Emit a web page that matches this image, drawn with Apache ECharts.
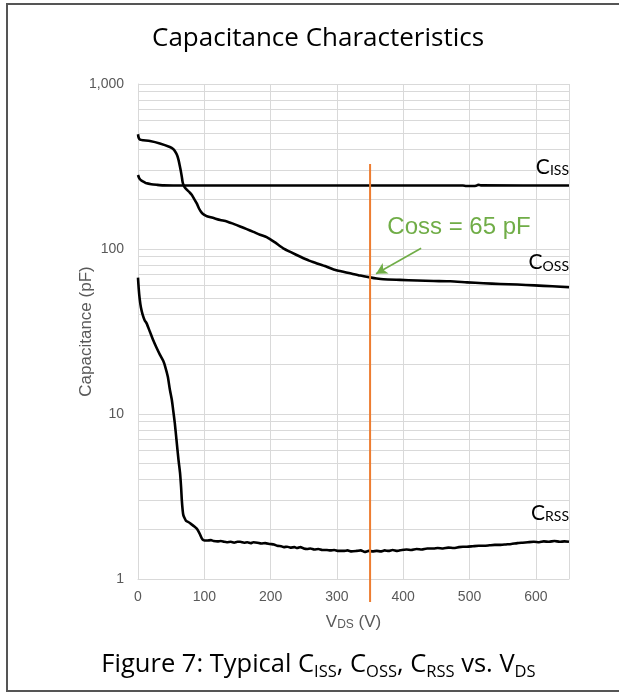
<!DOCTYPE html>
<html>
<head>
<meta charset="utf-8">
<script src="https://cdn.jsdelivr.net/npm/echarts@6/dist/echarts.min.js"></script>
<style>
  html, body { margin: 0; padding: 0; background: #fff; }
  #chart { width: 619px; height: 695px; }
</style>
</head>
<body>
<div id="chart"></div>
<script>
// V_DS (V) vs capacitance (pF)
var ciss = [[0,281],[2,268],[5,260],[9,255],[13,250],[20,247],[28,245],[38,243],[60,242.5],[150,242.5],[300,242.5],[490,242.5],[495,241],[505,241],[510,242],[513,245],[517,243],[650,242.5]]
var coss = [[0,496],[1,472],[3,460],[8,456],[18,451],[33,436],[48,415],[53,404],[56,390],[59,370],[61,348],[63,320],[64.5,298],[66,275],[67.5,252],[70,238],[73.5,229],[78,220],[81,213],[85,200],[88.6,189],[92,176],[96,166],[100,161],[104,158],[114,154],[124,150],[134,147],[144,142],[154,137],[164,132],[174,127],[184,122],[194,118],[206,110],[219,101],[232,95],[245,89.7],[258,85],[270,81.8],[283,78.5],[295,75.2],[308,73],[320,71.2],[335,69],[350,67.3],[360,66.3],[370,65.6],[395,65],[421,64.4],[446,64],[471,63.7],[496,62.8],[521,62],[546,61.4],[572,60.9],[598,60.2],[625,59.4],[650,58.6]]
var crss = [[0,67],[1,58],[2.5,50],[4.5,44],[7,40],[10,37],[13,35.4],[18,31.5],[23,28],[28,25.2],[33,22.9],[38,21],[41,19.4],[45,16.8],[48,14.1],[51,12.2],[53,10.6],[55.5,8.8],[58,7.0],[61,5.3],[63.4,4.4],[65,3.6],[66,3.04],[67.4,2.6],[68.4,2.44],[70,2.35],[72.5,2.25],[77,2.2],[81,2.14],[85,2.08],[88.6,2.02],[91,1.95],[93.6,1.86],[96,1.77],[98.6,1.72],[104,1.71],[110,1.72],[114,1.70],[120,1.69],[125,1.70],[130,1.68],[134,1.67],[140,1.68],[145,1.66],[150,1.68],[154,1.68],[160,1.66],[165,1.67],[170,1.65],[174,1.67],[180,1.66],[186,1.64],[192,1.65],[199,1.63],[205,1.62],[210,1.59],[216,1.58],[220,1.56],[225,1.57],[230,1.55],[236,1.56],[240,1.54],[245,1.56],[250,1.53],[255,1.52],[260,1.53],[266,1.51],[272,1.52],[278,1.50],[285,1.50],[290,1.49],[296,1.50],[302,1.48],[310,1.48],[316,1.49],[322,1.47],[330,1.48],[336,1.49],[342,1.46],[348,1.48],[354,1.47],[360,1.48],[366,1.47],[372,1.49],[378,1.48],[384,1.50],[391,1.48],[398,1.50],[405,1.51],[412,1.50],[420,1.52],[428,1.51],[436,1.53],[446,1.53],[452,1.54],[460,1.53],[468,1.55],[476,1.54],[484,1.56],[490,1.57],[496,1.57],[505,1.58],[514,1.59],[522,1.59],[530,1.60],[538,1.61],[547,1.61],[555,1.62],[563,1.63],[572,1.65],[580,1.66],[588,1.67],[597,1.68],[605,1.67],[612,1.69],[620,1.68],[628,1.70],[636,1.68],[643,1.69],[650,1.68]]

// marker at 350 V and the Coss callout
var markerV = 350
var markerSpan = [327, 0.726]
var arrowFrom = [427, 101]
var arrowTo = [359, 70.8]
var calloutAt = [376, 136]
var calloutText = 'Coss = 65 pF'

// log minor grid lines
var minorLines = [2,3,4,5,6,7,8,9,20,30,40,50,60,70,80,90,200,300,400,500,600,700,800,900]

var labelFont = 'Lato, "Open Sans", sans-serif'
var headFont = '"Open Sans", Lato, sans-serif'
var axisFont = '"Liberation Sans", Arial, sans-serif'
var gridCol = '#d9d9d9'
var green = '#70ad47'

var myChart = echarts.init(document.getElementById('chart'))

function curve(name, data) {
  return {
    name: name,
    type: 'line',
    data: data,
    symbol: 'none',
    smooth: 0.2,
    silent: true,
    lineStyle: { color: '#000', width: 2.6, join: 'round' },
    z: 5
  }
}

var option = {
  animation: false,
  title: {
    text: 'Capacitance Characteristics',
    left: 152,
    top: 26,
    padding: 0,
    textStyle: { fontFamily: headFont, fontSize: 26, fontWeight: 'normal', color: '#000' }
  },
  grid: { left: 138, right: 50, top: 84, bottom: 116 },
  xAxis: {
    type: 'value',
    min: 0,
    max: 650,
    interval: 100,
    name: 'V{s|DS} (V)',
    nameLocation: 'middle',
    nameGap: 35,
    nameMoveOverlap: false,
    nameTextStyle: {
      fontFamily: axisFont, fontSize: 17, color: '#595959',
      rich: { s: { fontFamily: axisFont, fontSize: 12, color: '#595959', verticalAlign: 'bottom', lineHeight: 12 } }
    },
    axisLine: { lineStyle: { color: gridCol } },
    axisTick: { show: false },
    axisLabel: { showMaxLabel: false, margin: 11, fontFamily: axisFont, fontSize: 14, color: '#595959' },
    splitLine: { show: true, lineStyle: { color: gridCol, width: 1 } }
  },
  yAxis: {
    type: 'log',
    logBase: 10,
    min: 1,
    max: 1000,
    name: 'Capacitance (pF)',
    nameLocation: 'middle',
    nameGap: 43,
    nameMoveOverlap: false,
    nameTextStyle: { fontFamily: axisFont, fontSize: 17, color: '#595959' },
    axisLine: { show: true, lineStyle: { color: gridCol } },
    axisTick: { show: false },
    axisLabel: {
      margin: 14,
      fontFamily: axisFont, fontSize: 14, color: '#595959',
      formatter: function (v) { return v >= 1000 ? '1,000' : String(v) }
    },
    splitLine: { show: true, lineStyle: { color: gridCol, width: 1 } }
  },
  series: [
    {
      name: 'grid-minor',
      type: 'line',
      data: [],
      silent: true,
      markLine: {
        silent: true,
        symbol: 'none',
        label: { show: false },
        lineStyle: { color: gridCol, type: 'solid', width: 1 },
        data: minorLines.map(function (v) { return { yAxis: v } })
      },
      z: 1
    },
    curve('Ciss', ciss),
    curve('Coss', coss),
    curve('Crss', crss),
    {
      name: 'marker',
      type: 'line',
      data: [[markerV, markerSpan[0]], [markerV, markerSpan[1]]],
      symbol: 'none',
      clip: false,
      silent: true,
      lineStyle: { color: '#ed7d31', width: 2 },
      z: 6
    },
    {
      name: 'callout',
      type: 'line',
      data: [],
      silent: true,
      markLine: {
        silent: true,
        symbol: ['none', 'arrow'],
        symbolSize: [9, 11],
        label: { show: false },
        lineStyle: { color: green, type: 'solid', width: 1.6 },
        data: [[{ coord: arrowFrom }, { coord: arrowTo }]]
      },
      z: 7
    }
  ]
}
myChart.setOption(option)

// text placed against the plot's own scale
function toPx(v, c) { return myChart.convertToPixel({ gridIndex: 0 }, [v, c]) }
var rightPx = toPx(650, 1)[0]

var subRich = {
  c: { fontFamily: labelFont, fontSize: 21, color: '#000', verticalAlign: 'bottom', lineHeight: 22 },
  s: { fontFamily: labelFont, fontSize: 14, color: '#000', verticalAlign: 'bottom', lineHeight: 18 }
}

function curveLabel(key, c, dy) {
  return {
    type: 'text',
    x: rightPx,
    y: toPx(650, c)[1] + dy,
    style: { text: '{c|C}{s|' + key + '}', rich: subRich, align: 'right', verticalAlign: 'bottom' },
    z: 10
  }
}

var calloutPx = toPx(calloutAt[0], calloutAt[1])

myChart.setOption({
  graphic: [
    {
      type: 'rect',
      shape: { x: 7, y: 4, width: 640, height: 687 },
      style: { fill: 'none', stroke: '#555', lineWidth: 2 },
      silent: true,
      z: 20
    },
    curveLabel('ISS', 281, 3),
    curveLabel('OSS', 75.6, 4),
    curveLabel('RSS', 2.28, 4),
    {
      type: 'text',
      x: calloutPx[0],
      y: calloutPx[1],
      style: { text: calloutText, fontFamily: axisFont, fontSize: 24, fill: green, verticalAlign: 'middle' },
      z: 10
    },
    {
      type: 'text',
      x: 318.5,
      y: 649,
      style: {
        text: 'Figure 7: Typical C{s|ISS}, C{s|OSS}, C{s|RSS} vs. V{s|DS}',
        rich: {
          s: { fontFamily: headFont, fontSize: 16.5, color: '#000', verticalAlign: 'bottom', lineHeight: 26 }
        },
        align: 'center',
        fontFamily: headFont, fontSize: 25.5, fill: '#000', lineHeight: 32
      },
      z: 10
    }
  ]
})
</script>
</body>
</html>
